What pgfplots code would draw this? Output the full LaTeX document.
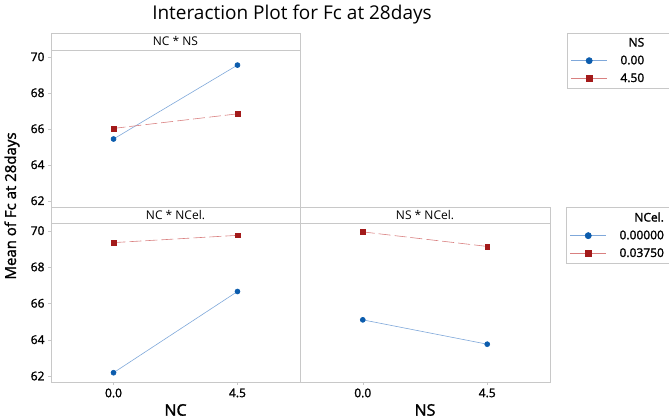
\documentclass[border=0pt]{standalone}
\usepackage{fontspec}
\setmainfont{Open Sans}
\newfontfamily\semib[FakeBold=1.6]{Open Sans}
\usepackage{calc}
\usepackage{pgfplots}
\pgfplotsset{compat=1.18}
\definecolor{mblue}{HTML}{0B5CAD}
\definecolor{mbluel}{HTML}{7FA8DA}
\definecolor{mred}{HTML}{A31A1A}
\definecolor{mredl}{HTML}{D98080}
\definecolor{frame}{HTML}{C8C8C8}

\pgfplotstableread{
x y
0 65.43
4.5 69.54
}\tabNCNSa
\pgfplotstableread{
x y
0 66.02
4.5 66.83
}\tabNCNSb
\pgfplotstableread{
x y
0 62.18
4.5 66.65
}\tabNCCela
\pgfplotstableread{
x y
0 69.34
4.5 69.74
}\tabNCCelb
\pgfplotstableread{
x y
0 65.09
4.5 63.75
}\tabNSCela
\pgfplotstableread{
x y
0 69.93
4.5 69.13
}\tabNSCelb

\newcommand{\lent}[1]{\hspace*{11pt}\makebox[52pt][l]{#1}}

\pgfplotsset{
 panel/.style={scale only axis, clip=false,
   axis line style={frame}, tick style={frame}, tick align=outside,
   major tick length=3pt,
   xmin=-2.27, xmax=6.77,
   xtick={0,4.5}, xticklabels={0.0,4.5},
   ytick={62,64,66,68,70},
   xtick pos=bottom, ytick pos=left,
   tick label style={font=\semib\fontsize{12}{14}\selectfont},
   /pgf/number format/assume math mode=true,
   legend image code/.code={\draw[mark repeat=2,mark phase=2,##1,solid,mark size=3.1pt] plot coordinates {(0pt,0pt) (18pt,0pt) (36pt,0pt)};},
   legend cell align=left,
   legend style={draw=frame, font=\semib\fontsize{12}{14}\selectfont, anchor=north west, row sep=3.5pt, inner xsep=4pt, inner ysep=3pt},
 },
 sA/.style={color=mbluel, line width=0.6pt, mark=*, mark size=2.5pt, mark options={solid, draw=mblue, fill=mblue}},
 sB/.style={color=mredl, line width=0.6pt, dash pattern=on 12pt off 4pt, mark=square*, mark size=2.4pt, mark options={solid, draw=mred, fill=mred}},
}

\begin{document}
\begin{tikzpicture}
\path[use as bounding box] (0,0) rectangle (669pt,419pt);

\node[font=\fontsize{19}{21}\selectfont] at (292pt,404pt) {Interaction Plot for Fc at 28days};
\node[rotate=90, font=\semib\fontsize{15}{17}\selectfont] at (12pt,213pt) {Mean of Fc at 28days};
\node[inner sep=0pt, font=\semib\fontsize{16}{18}\selectfont] at (175.5pt,9pt) {NC};
\node[inner sep=0pt, font=\semib\fontsize{16}{18}\selectfont] at (425pt,9pt) {NS};

% top-left: NC * NS
\begin{axis}[panel, at={(51pt,212pt)}, anchor=south west,
  width=249pt, height=157pt, ymin=61.65, ymax=70.38,
  xticklabels={}, major x tick style={draw=none},
  legend style={at={(2.071,1.110)}}]
\draw[frame] (rel axis cs:0,1) rectangle ([yshift=17pt]rel axis cs:1,1);
\node[font=\fontsize{12}{14}\selectfont] at ([yshift=8.5pt]rel axis cs:0.5,1) {NC * NS};
\addlegendimage{empty legend}
\addlegendentry{\lent{\makebox[\widthof{0.00}][r]{NS}}}
\addplot[sA] table[x=x,y=y] {\tabNCNSa};
\addlegendentry{\lent{0.00}}
\addplot[sB] table[x=x,y=y] {\tabNCNSb};
\addlegendentry{\lent{4.50}}
\end{axis}

% bottom-left: NC * NCel.
\begin{axis}[panel, at={(51pt,37pt)}, anchor=south west,
  width=249pt, height=159pt, ymin=61.67, ymax=70.42]
\draw[frame] (rel axis cs:0,1) rectangle ([yshift=16pt]rel axis cs:1,1);
\node[font=\fontsize{12}{14}\selectfont] at ([yshift=8pt]rel axis cs:0.5,1) {NC * NCel.};
\addplot[sA] table[x=x,y=y] {\tabNCCela};
\addplot[sB] table[x=x,y=y] {\tabNCCelb};
\end{axis}

% bottom-right: NS * NCel.
\begin{axis}[panel, at={(300pt,37pt)}, anchor=south west,
  width=250pt, height=159pt, ymin=61.67, ymax=70.42,
  yticklabels={}, major y tick style={draw=none},
  legend style={at={(1.063,1.099)}}]
\draw[frame] (rel axis cs:0,1) rectangle ([yshift=16pt]rel axis cs:1,1);
\node[font=\fontsize{12}{14}\selectfont] at ([yshift=8pt]rel axis cs:0.5,1) {NS * NCel.};
\addlegendimage{empty legend}
\addlegendentry{\lent{\makebox[\widthof{0.00000}][r]{NCel.}}}
\addplot[sA] table[x=x,y=y] {\tabNSCela};
\addlegendentry{\lent{0.00000}}
\addplot[sB] table[x=x,y=y] {\tabNSCelb};
\addlegendentry{\lent{0.03750}}
\end{axis}
\end{tikzpicture}
\end{document}
